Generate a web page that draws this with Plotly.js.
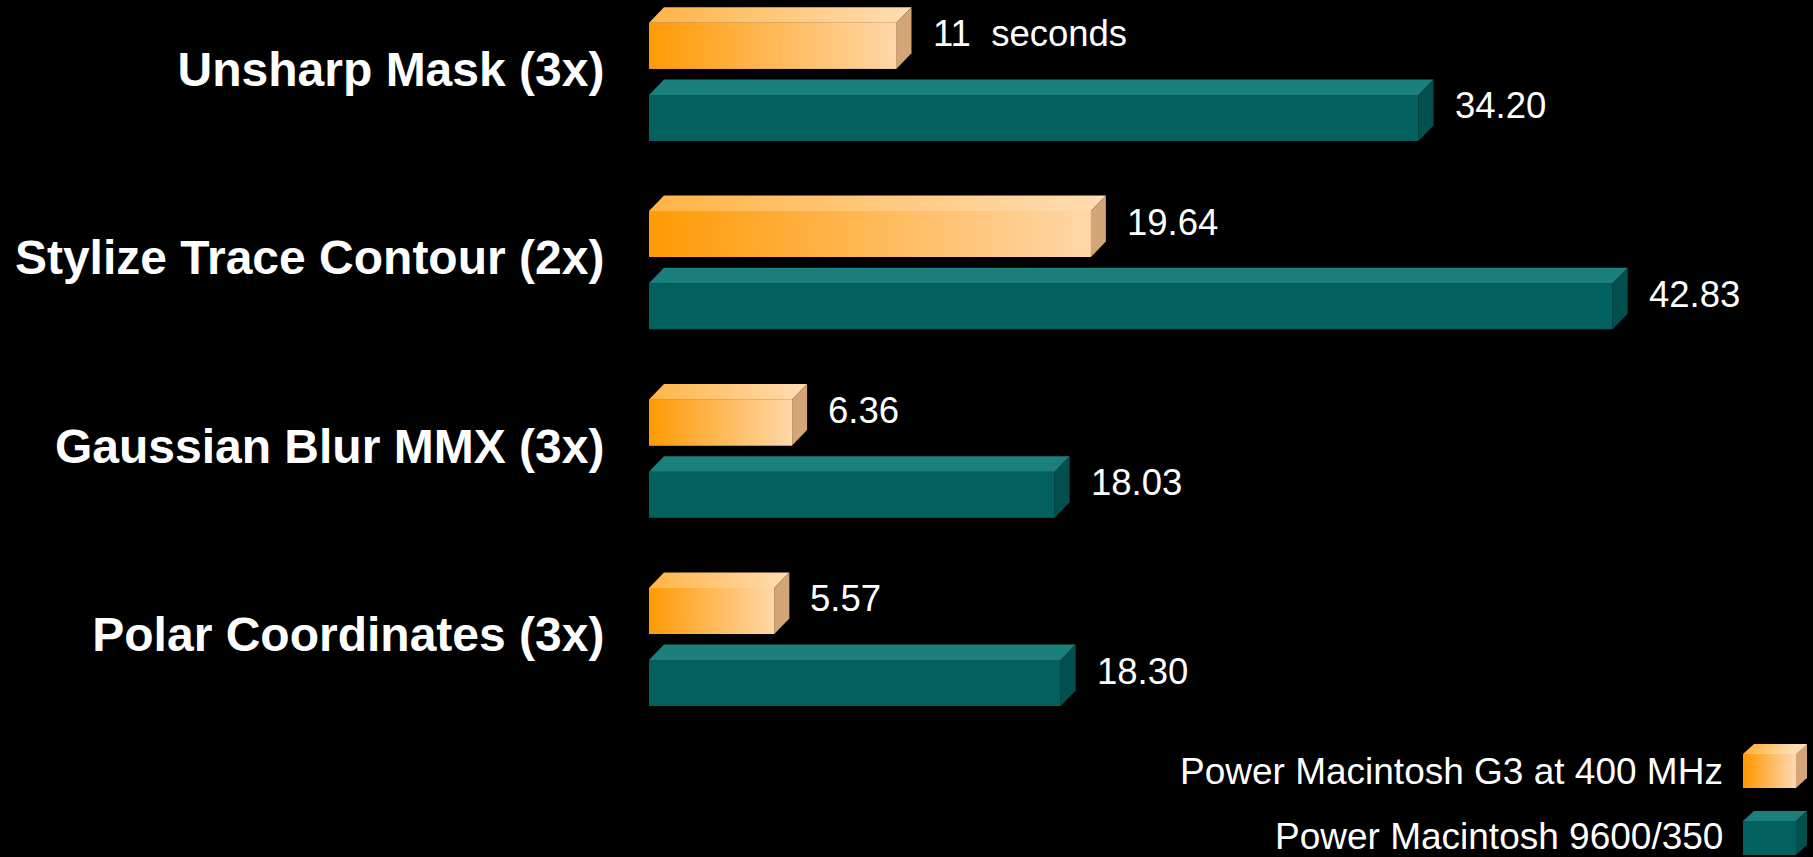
<!DOCTYPE html>
<html>
<head>
<meta charset="utf-8">
<script src="https://cdn.plot.ly/plotly-3.0.1.min.js"></script>
<style>
  html, body { margin: 0; padding: 0; background: #000; }
  #chart { width: 1813px; height: 857px; }
</style>
</head>
<body>
<div id="chart"></div>
<script>
// ---- data ----
var categories = ["Unsharp Mask (3x)", "Stylize Trace Contour (2x)", "Gaussian Blur MMX (3x)", "Polar Coordinates (3x)"];
var seriesNames = ["Power Macintosh G3 at 400 MHz", "Power Macintosh 9600/350"];
var g3Times = [11, 19.64, 6.36, 5.57];
var pm9600Times = [34.20, 42.83, 18.03, 18.30];
var g3Labels = ["11\u00a0 seconds", "19.64", "6.36", "5.57"];
var pm9600Labels = ["34.20", "42.83", "18.03", "18.30"];

// ---- layout constants ----
var W = 1813, H = 857;
var marginL = 649;
var plotW = W - marginL;
var pxPerUnitX = 22.5;
var xMax = plotW / pxPerUnitX;
var groupPx = 188.4;               // pixels per category step
var firstPx = 69;                  // pixel row of first category label
var yTopRange = -firstPx / groupPx;
var yBotRange = yTopRange + H / groupPx;
var barH = 46 / groupPx;
var offG3 = -23.3 / groupPx;
var off96 = 48.9 / groupPx;
var dX = 15 / pxPerUnitX;
var dY = 15.5 / groupPx;

var FONT = "Liberation Sans, Arial, Helvetica, sans-serif";

var orangeFront = [[0, "#FF9A05"], [1, "#FFD7A8"]];
var orangeTop = [[0, "#FFB445"], [1, "#FFDDB3"]];
var orangeSide = "#D3A577";
var tealFront = "#02615F";
var tealTop = "#1B807C";
var tealSide = "#02504D";

var idx = categories.map(function (c, i) { return i; });
var yG3 = idx.map(function (i) { return i + offG3; });
var y96 = idx.map(function (i) { return i + off96; });

var traces = [];
// front faces as bar traces
traces.push({
  type: "bar", orientation: "h", name: seriesNames[1],
  x: pm9600Times, y: y96, width: barH,
  marker: { color: tealFront, line: { width: 0 } },
  hoverinfo: "x", showlegend: false
});
traces.push({
  type: "bar", orientation: "h", name: seriesNames[0],
  x: g3Times, y: yG3, width: barH,
  marker: { color: "#FFB861", line: { width: 0 } },
  hoverinfo: "x", showlegend: false
});

function poly(xs, ys, fill, grad) {
  var t = {
    type: "scatter", mode: "lines", x: xs.concat([xs[0]]), y: ys.concat([ys[0]]),
    fill: "toself", line: { width: 0, color: "rgba(0,0,0,0)" },
    hoverinfo: "skip", showlegend: false
  };
  if (grad) { t.fillgradient = { type: "horizontal", colorscale: grad }; t.fillcolor = grad[0][1]; }
  else { t.fillcolor = fill; }
  return t;
}

function faces(vals, ys, frontGrad, topFill, topGrad, sideFill) {
  vals.forEach(function (v, i) {
    var yT = ys[i] - barH / 2, yB = ys[i] + barH / 2;
    if (frontGrad) traces.push(poly([0, v, v, 0], [yT, yT, yB, yB], null, frontGrad));
    traces.push(poly([0, dX, v + dX, v], [yT, yT - dY, yT - dY, yT], topFill, topGrad));
    traces.push(poly([v, v + dX, v + dX, v], [yT, yT - dY, yB - dY, yB], sideFill, null));
  });
}
faces(pm9600Times, y96, null, tealTop, null, tealSide);
faces(g3Times, yG3, orangeFront, null, orangeTop, orangeSide);

// value labels
var annotations = [];
function addLabels(vals, ys, labels) {
  vals.forEach(function (v, i) {
    annotations.push({
      x: v, y: ys[i], xref: "x", yref: "y", text: labels[i], showarrow: false,
      xanchor: "left", yanchor: "middle", xshift: 34, yshift: 12,
      font: { family: FONT, size: 36.5, color: "#ffffff" }
    });
  });
}
addLabels(g3Times, yG3, g3Labels);
addLabels(pm9600Times, y96, pm9600Labels);

// legend (manual: text on the left, cube on the right); paper = plot area
function px(x) { return (x - marginL) / plotW; }
function py(y) { return 1 - y / H; }
var legendRows = [772, 837];
seriesNames.forEach(function (n, i) {
  annotations.push({
    x: px(1725), y: py(legendRows[i]), xref: "paper", yref: "paper", text: n,
    showarrow: false, xanchor: "right", yanchor: "middle", yshift: 1,
    font: { family: FONT, size: 37, color: "#ffffff" }
  });
});

var shapes = [];
function pathPx(pts) {
  return "M" + pts.map(function (p) { return px(p[0]) + "," + py(p[1]); }).join("L") + "Z";
}
function cube(top, frontColors, topColors, side) {
  var x0 = 1743, x1 = 1796, ddx = 11, ddy = 10, h = 34;
  var y0 = top + ddy, y1 = y0 + h;
  var n = frontColors.length;
  for (var k = 0; k < n; k++) {
    var a = x0 + (x1 - x0) * k / n, b = x1;   // each strip overlaps the rest: no seams
    shapes.push({ type: "path", xref: "paper", yref: "paper", path: pathPx([[a, y0], [b, y0], [b, y1], [a, y1]]),
      fillcolor: frontColors[k], line: { width: 0 }, layer: "above" });
    shapes.push({ type: "path", xref: "paper", yref: "paper",
      path: pathPx([[a, y0], [a + ddx, top], [b + ddx, top], [b, y0]]),
      fillcolor: topColors[k], line: { width: 0 }, layer: "above" });
  }
  shapes.push({ type: "path", xref: "paper", yref: "paper",
    path: pathPx([[x1, y0], [x1 + ddx, top], [x1 + ddx, y1 - ddy], [x1, y1]]),
    fillcolor: side, line: { width: 0 }, layer: "above" });
}
cube(744, ["#FF9A05", "#FF9F13", "#FFA421", "#FFA92F", "#FFAE3D", "#FFB34B", "#FFB859", "#FFBD67", "#FFC275", "#FFC783", "#FFCC91", "#FFD19F", "#FFD6A8"],
          ["#FFB445", "#FFB850", "#FFBC5B", "#FFC066", "#FFC471", "#FFC87C", "#FFCC87", "#FFD092", "#FFD49D", "#FFD8A8", "#FFDCB0", "#FFDEB5", "#FFDFB8"], orangeSide);
cube(811, [tealFront], [tealTop], tealSide);

var layout = {
  width: W, height: H,
  paper_bgcolor: "#000000", plot_bgcolor: "#000000",
  margin: { l: marginL, r: 0, t: 0, b: 0, pad: 0 },
  showlegend: false,
  barmode: "overlay",
  xaxis: { range: [0, xMax], visible: false, showgrid: false, zeroline: false, fixedrange: true },
  yaxis: {
    range: [yBotRange, yTopRange], tickmode: "array", tickvals: idx, ticktext: categories,
    tickfont: { family: FONT, size: 48, color: "#ffffff", weight: "bold" },
    ticks: "outside", ticklen: 34, tickcolor: "rgba(0,0,0,0)",
    showgrid: false, zeroline: false, showline: false, fixedrange: true
  },
  annotations: annotations,
  shapes: shapes,
  hovermode: false
};

Plotly.newPlot("chart", traces, layout, { displayModeBar: false, staticPlot: true });
</script>
</body>
</html>
